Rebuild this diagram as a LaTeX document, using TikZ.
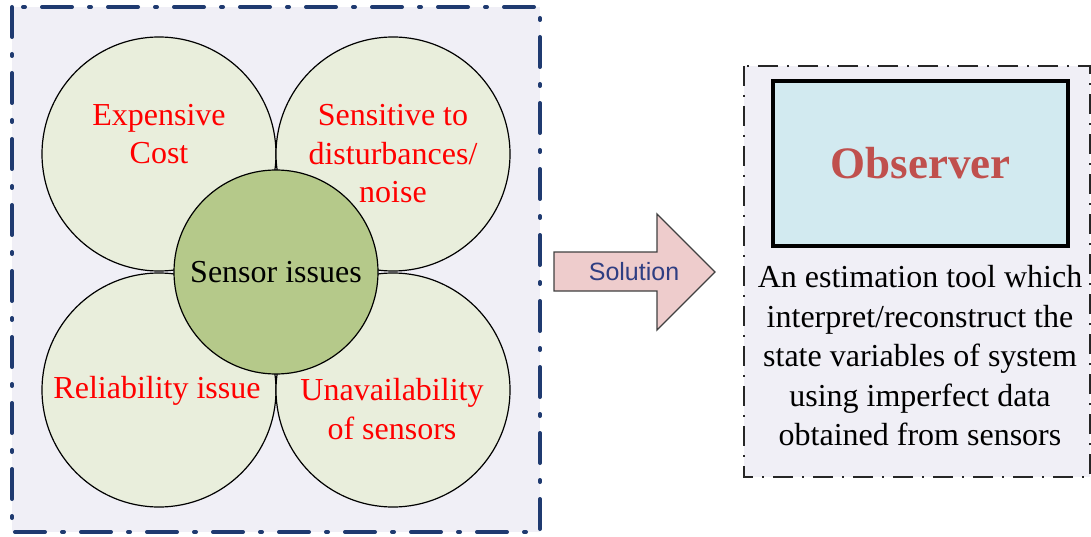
\documentclass[tikz,border=0pt]{standalone}
\usepackage{fontspec}
\setmainfont{Liberation Serif}
\newfontfamily\solfont{Liberation Sans}
\usepackage{tikz}
\usetikzlibrary{calc}

\definecolor{framebg}{RGB}{240,239,246}
\definecolor{framenavy}{RGB}{31,58,112}
\definecolor{issuefill}{RGB}{233,238,220}
\definecolor{corefill}{RGB}{181,201,138}
\definecolor{obsfill}{RGB}{210,234,240}
\definecolor{obsred}{RGB}{192,80,77}
\definecolor{arrowfill}{RGB}{238,204,204}
\definecolor{solblue}{RGB}{47,62,130}

\begin{document}
\begin{tikzpicture}[x=1pt,y=-1pt,
	issue/.style={circle,draw=black,line width=1.2pt,fill=issuefill,minimum size=234pt,inner sep=0pt},
	core/.style={circle,draw=black,line width=1.2pt,fill=corefill,minimum size=204pt,inner sep=0pt,font=\fontsize{32}{38}\selectfont},
	issuetext/.style={text=red,align=center,inner sep=0pt,font=\fontsize{32}{38.5}\selectfont},
	leftframe/.style={draw=framenavy,fill=framebg,line width=4pt,line cap=round,dash pattern=on 30pt off 17pt on 2pt off 17pt},
	rightframe/.style={draw=black!85,fill=framebg,line width=2pt,dash pattern=on 20pt off 9pt on 2pt off 9pt}]
	\useasboundingbox (0,0) rectangle (1091,537);
	
	%left frame
	\draw[leftframe] (12,7) rectangle (540,532);
	
	%four issues round the middle
	\coordinate (m) at (276,272);
	\foreach \n/\dx/\dy in {exp/-117/-118,sens/117/-118,rel/-117/118,unav/117/118}{
		\node[issue] (\n) at ($(m)+(\dx,\dy)$) {};
	}
	\node[core] (issues) at (m) {Sensor issues};
	
	\node[issuetext] (exptxt) at ($(exp)+(0,-20)$) {Expensive\\Cost};
	\node[issuetext] (senstxt) at ($(sens)+(0,0)$) {Sensitive to\\disturbances/\\noise};
	\node[issuetext] (reltxt) at ($(rel)+(-2,1)$) {Reliability issue};
	\node[issuetext] (unavtxt) at ($(unav)+(-1,19)$) {Unavailability\\of sensors};
	
	%arrow:
	\draw[line width=1.3pt,draw=black!75,fill=arrowfill,line join=miter]
		(554,252) -- (657,252) -- (657,214) -- (715,272) -- (657,330) -- (657,291) -- (554,291) -- cycle;
	\node[text=solblue,inner sep=0pt,font=\solfont\fontsize{25}{30}\selectfont] (sol) at (634,272) {Solution};
	
	%right frame
	\draw[rightframe] (744,66) rectangle (1090,477);
	\node[draw=black,line width=3.5pt,fill=obsfill,minimum width=295pt,minimum height=165pt,inner sep=0pt,
		text=obsred,font=\fontsize{45}{50}\selectfont\bfseries] (obs) at (920.5,163.5) {Observer};
	\node[align=center,inner sep=0pt,font=\fontsize{32}{39.5}\selectfont] (obstxt) at (920,356)
		{An estimation tool which\\interpret/reconstruct the\\state variables of system\\using imperfect data\\obtained from sensors};
\end{tikzpicture}
\end{document}
